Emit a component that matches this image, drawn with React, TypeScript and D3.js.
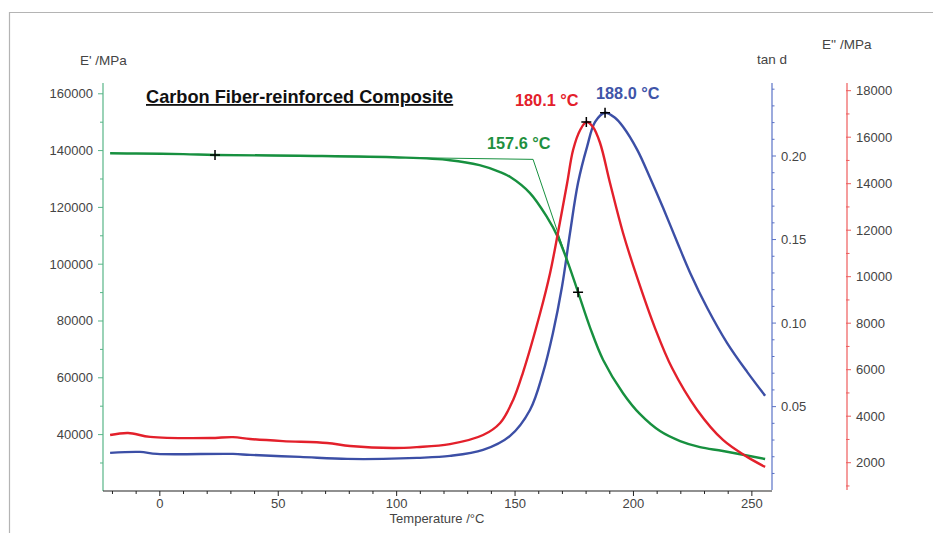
import React from 'react';
import * as d3 from 'd3';

const W = 933;
const H = 533;

// Storage modulus E' (left axis)
const tempStorage = [-21, -10, 10, 23.3, 59, 101, 122.5, 135, 143.7, 148, 156.3, 163.5, 168.1, 172.4, 176.6, 181.6, 187.2, 195.6, 202.8, 211.2, 219.7, 228.1, 237.8, 255.6];
const eStorage = [139050, 138960, 138760, 138470, 138180, 137590, 136620, 134860, 132430, 130670, 125020, 116550, 109530, 100380, 90150, 77870, 66280, 54580, 47180, 41240, 37730, 35590, 34220, 31400];

// Loss modulus E'' (right red axis)
const tempLoss = [-21, -13.4, -4.1, 21.2, 30.9, 38.1, 52, 70.6, 80.3, 98.5, 108.6, 122.5, 136.5, 143.7, 149.2, 153.4, 160.6, 164.8, 168.1, 172, 174.5, 177.5, 180.1, 182.9, 185.9, 190.1, 195.6, 201.9, 209.1, 216.3, 226.9, 237.8, 248, 255.6];
const eLoss = [3190, 3280, 3110, 3060, 3100, 3020, 2930, 2850, 2720, 2630, 2670, 2800, 3190, 3710, 4700, 5900, 8440, 10160, 11880, 14030, 15450, 16310, 16650, 16440, 15750, 14030, 11880, 9860, 7790, 6070, 4270, 2980, 2250, 1820];

// tan delta (right blue axis)
const tempTan = [-21, -8.4, -1.2, 30.9, 38.1, 59.2, 79.1, 94.3, 108.6, 122.5, 136.5, 147.9, 156.3, 161.8, 166, 169.8, 173.2, 176.6, 180.4, 183.8, 188, 192.2, 195.6, 201.6, 207, 212.5, 218.4, 223.9, 231.1, 239.5, 248, 255.6];
const tanD = [0.0223, 0.0229, 0.0217, 0.0217, 0.0211, 0.0199, 0.0187, 0.0187, 0.0193, 0.0205, 0.0241, 0.0325, 0.048, 0.0702, 0.0941, 0.1216, 0.1539, 0.184, 0.2055, 0.2204, 0.2259, 0.2229, 0.2175, 0.2037, 0.187, 0.169, 0.1487, 0.1302, 0.1092, 0.0882, 0.0708, 0.0565];

// Tick values
const xTicks = d3.range(-20, 251, 10);
const xLabels = [0, 50, 100, 150, 200, 250];
const eTicks = d3.range(30000, 160001, 10000);
const eLabels = [40000, 60000, 80000, 100000, 120000, 140000, 160000];
const tanTicks = d3.range(1, 25).map((d) => d / 100);
const tanLabels = [0.05, 0.1, 0.15, 0.2];
const lossTicks = d3.range(1000, 18001, 1000);
const lossLabels = [2000, 4000, 6000, 8000, 10000, 12000, 14000, 16000, 18000];

// Evaluation markers
const onsetTemp = 157.6;
const onsetE = 136910;
const baseStart = { t: 23.3, v: 138470 };
const inflect = { t: 176.6, v: 90150 };
const lossPeak = { t: 180.1, v: 16650, label: '180.1 °C' };
const tanPeak = { t: 188.0, v: 0.2259, label: '188.0 °C' };

const FONT = "'Liberation Sans', Arial, sans-serif";
const C_GREEN = '#17903f';
const C_RED = '#e3202b';
const C_BLUE = '#3c4fa6';
const AX_GREEN = '#58b587';
const AX_BLUE = '#5a72c6';
const AX_RED = '#ee5c5c';
const TXT = '#444';

export default function App() {
  const x = d3.scaleLinear().domain([-24, 258.5]).range([103, 772]);
  const yE = d3.scaleLinear().domain([20140, 163800]).range([491, 83]);
  const yT = d3.scaleLinear().domain([-0.0005, 0.2437]).range([491, 83]);
  const yL = d3.scaleLinear().domain([783, 18331]).range([491, 83]);

  const line = d3
    .line<[number, number]>()
    .x((d) => d[0])
    .y((d) => d[1])
    .curve(d3.curveCatmullRom.alpha(0.5));

  const gPath = line(tempStorage.map((t, i) => [x(t), yE(eStorage[i])]))!;
  const rPath = line(tempLoss.map((t, i) => [x(t), yL(eLoss[i])]))!;
  const bPath = line(tempTan.map((t, i) => [x(t), yT(tanD[i])]))!;

  const cross = (cx: number, cy: number, key: string) => (
    <path key={key} d={`M${cx - 5},${cy}H${cx + 5}M${cx},${cy - 5}V${cy + 5}`} stroke="#000" strokeWidth={1.5} />
  );

  const xAxisY = 491;
  const leftX = 103;
  const blueX = 772;
  const redX = 847;

  return (
    <svg width={W} height={H} style={{ position: 'absolute', left: 0, top: 0, background: '#fff' }} fontFamily={FONT}>
      <rect x={0} y={0} width={W} height={H} fill="#fff" />
      {/* frame */}
      <path d={`M9.5,${H}V12.5H${W}`} fill="none" stroke="#b4b4b4" strokeWidth={1.2} />

      {/* left axis */}
      <line x1={leftX} x2={leftX} y1={83} y2={491} stroke={AX_GREEN} strokeWidth={1.2} />
      {eTicks.map((v) => {
        const major = eLabels.includes(v);
        return <line key={'et' + v} x1={leftX - (major ? 5 : 3)} x2={leftX} y1={yE(v)} y2={yE(v)} stroke={AX_GREEN} strokeWidth={1} />;
      })}
      {eLabels.map((v) => (
        <text key={'el' + v} x={93} y={yE(v) + 4.5} textAnchor="end" fontSize={13} fill={TXT}>{v}</text>
      ))}
      <text x={80} y={65} fontSize={13.5} fill={TXT}>E' /MPa</text>

      {/* blue axis */}
      <line x1={blueX} x2={blueX} y1={83} y2={490} stroke={AX_BLUE} strokeWidth={1.2} />
      {tanTicks.map((v) => {
        const major = tanLabels.some((l) => Math.abs(l - v) < 1e-9);
        return <line key={'tt' + v} x1={blueX} x2={blueX + (major ? 4 : 2.5)} y1={yT(v)} y2={yT(v)} stroke={AX_BLUE} strokeWidth={1} />;
      })}
      {tanLabels.map((v) => (
        <text key={'tl' + v} x={781} y={yT(v) + 4.5} fontSize={13} fill={TXT}>{v.toFixed(2)}</text>
      ))}
      <text x={757} y={64} fontSize={13.5} fill={TXT}>tan d</text>

      {/* red axis */}
      <line x1={redX} x2={redX} y1={83} y2={490} stroke={AX_RED} strokeWidth={1.2} />
      {lossTicks.map((v) => {
        const major = lossLabels.includes(v);
        return <line key={'lt' + v} x1={redX - 1} x2={redX + (major ? 4 : 2.5)} y1={yL(v)} y2={yL(v)} stroke={AX_RED} strokeWidth={1} />;
      })}
      {lossLabels.map((v) => (
        <text key={'ll' + v} x={856} y={yL(v) + 4.5} fontSize={13} fill={TXT}>{v}</text>
      ))}
      <text x={822} y={49} fontSize={13.5} fill={TXT}>E'' /MPa</text>

      {/* x axis */}
      <line x1={leftX} x2={blueX} y1={xAxisY} y2={xAxisY} stroke="#222" strokeWidth={1.2} />
      {xTicks.map((v) => {
        const major = xLabels.includes(v);
        return <line key={'xt' + v} x1={x(v)} x2={x(v)} y1={xAxisY} y2={xAxisY + (major ? 5 : 3)} stroke="#222" strokeWidth={1} />;
      })}
      {xLabels.map((v) => (
        <text key={'xl' + v} x={x(v)} y={508} textAnchor="middle" fontSize={13} fill={TXT}>{v}</text>
      ))}
      <text x={437} y={523} textAnchor="middle" fontSize={13} fill={TXT}>Temperature /°C</text>

      {/* title */}
      <text x={146} y={103} fontSize={18.2} fontWeight="bold" fill="#111" textDecoration="underline">Carbon Fiber-reinforced Composite</text>

      {/* onset construction */}
      <path
        d={`M${x(baseStart.t)},${yE(baseStart.v)}L${x(onsetTemp)},${yE(onsetE)}L${x(inflect.t)},${yE(inflect.v)}`}
        fill="none"
        stroke={C_GREEN}
        strokeWidth={1}
      />

      {/* curves */}
      <path d={bPath} fill="none" stroke={C_BLUE} strokeWidth={2.4} strokeLinejoin="round" />
      <path d={gPath} fill="none" stroke={C_GREEN} strokeWidth={2.4} strokeLinejoin="round" />
      <path d={rPath} fill="none" stroke={C_RED} strokeWidth={2.4} strokeLinejoin="round" />

      {/* markers */}
      {cross(x(baseStart.t), yE(baseStart.v), 'c1')}
      {cross(x(inflect.t), yE(inflect.v), 'c2')}
      {cross(x(lossPeak.t), yL(lossPeak.v), 'c3')}
      {cross(x(tanPeak.t), yT(tanPeak.v), 'c4')}

      {/* annotations */}
      <text x={515} y={106} fontSize={16.3} fontWeight="bold" fill={C_RED}>{lossPeak.label}</text>
      <text x={596} y={99} fontSize={16.3} fontWeight="bold" fill="#3f55a8">{tanPeak.label}</text>
      <text x={487} y={149} fontSize={16.3} fontWeight="bold" fill="#1f9040">{onsetTemp.toFixed(1) + ' °C'}</text>
    </svg>
  );
}
